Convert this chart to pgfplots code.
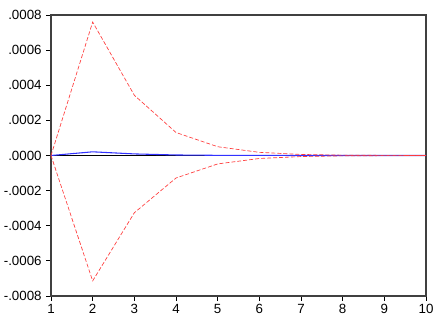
\documentclass[border=0pt]{standalone}
\usepackage{pgfplots}
\pgfplotsset{compat=1.18}
\usepackage{fontspec}
\setmainfont{Liberation Sans}
\definecolor{irfred}{RGB}{255,60,60}
\definecolor{irfblue}{RGB}{50,50,255}
\begin{document}
\begin{tikzpicture}
\path[use as bounding box] (-38.25pt,-24pt) rectangle (296.25pt,222pt);
\begin{axis}[
  at={(0,0)}, anchor=south west,
  scale only axis, width=281.25pt, height=210.75pt,
  xmin=1, xmax=10, ymin=-0.0008, ymax=0.0008,
  xtick={1,...,10},
  ytick={-0.0008,-0.0006,-0.0004,-0.0002,0,0.0002,0.0004,0.0006,0.0008},
  yticklabels={-.0008,-.0006,-.0004,-.0002,.0000,.0002,.0004,.0006,.0008},
  xtick pos=bottom, ytick pos=left,
  tick align=outside,
  major tick length=3.5pt,
  tick style={black, line width=0.6pt},
  axis line style={line width=0.8pt, black!75},
  scaled y ticks=false,
  tick label style={font=\fontsize{10}{11}\selectfont},
  /pgf/number format/assume math mode=true,
  xticklabel style={yshift=1pt},
  clip=false,
]
\addplot[black, line width=0.6pt, forget plot] coordinates {(1,0) (10,0)};
\addplot[irfblue, line width=0.8pt] coordinates {
(1,0) (2,0.000021) (3,0.000009) (4,0.000003) (5,0.000001) (6,0.0000004) (7,0.0000001) (8,0) (9,0) (10,0)};
\addplot[irfred, line width=0.5pt, dash pattern=on 3pt off 1.5pt] coordinates {
(1,0) (2,0.00076) (3,0.000343) (4,0.000131) (5,0.00005) (6,0.000018) (7,0.000006) (8,0.000002) (9,0.0000007) (10,0.0000002)};
\addplot[irfred, line width=0.5pt, dash pattern=on 3pt off 1.5pt] coordinates {
(1,0) (2,-0.000714) (3,-0.000326) (4,-0.000128) (5,-0.000048) (6,-0.000017) (7,-0.000006) (8,-0.000002) (9,-0.0000007) (10,-0.0000002)};
\end{axis}
\end{tikzpicture}
\end{document}
